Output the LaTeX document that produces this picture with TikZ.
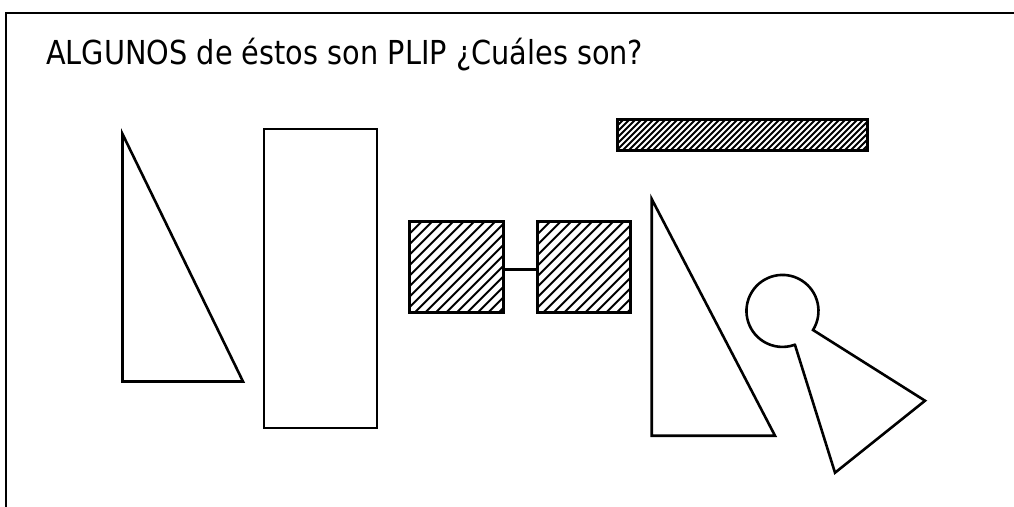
\documentclass[tikz,border=0pt]{standalone}
\usepackage{graphicx}
\usepackage{fontspec}
\setmainfont{DejaVu Sans}
\newlength{\hsp}
\tikzset{
  frameline/.style={line width=2.7pt},
  outl/.style={draw, line width=2.6pt, line join=miter},
  hatchbox/.style={draw, line width=3pt, inner sep=0pt, outer sep=0pt,
    path picture={
      \foreach \i in {0,...,#1}{
        \draw[line width=1.9pt] ([xshift=\i*\hsp-120pt]path picture bounding box.south west) -- ++(400pt,400pt);
      }
    }},
}
\begin{document}
\begin{tikzpicture}[x=1pt,y=-1pt]
\useasboundingbox (0,0) rectangle (1014,506);
\draw[frameline] (6,520) -- (6,13) -- (1030,13);
\node[anchor=base west, inner sep=0pt, font=\fontsize{33}{40}\selectfont] (title) at (46,64.3) {\scalebox{0.872}[1]{ALGUNOS de éstos son PLIP ¿Cuáles son?}};
% left triangle
\draw[outl] (122.5,134) -- (122.5,381.5) -- (243,381.5) -- cycle;
% tall rectangle
\draw[outl] (264,129) rectangle (377,428);
% hatched bar
\setlength{\hsp}{6pt}
\node[hatchbox=70, minimum width=250pt, minimum height=31pt] (bar) at (742,134.5) {};
% hatched squares
\setlength{\hsp}{10.5pt}
\node[hatchbox=30, minimum width=94pt, minimum height=91pt] (sqA) at (456.3,266.5) {};
\node[hatchbox=30, minimum width=93pt, minimum height=91pt] (sqB) at (584.3,266.5) {};
\draw[line width=2.6pt] ([yshift=-2.8pt]sqA.east) -- ([yshift=-2.8pt]sqB.west);
% right triangle
\draw[outl] (651.7,199) -- (651.7,435.7) -- (775,435.7) -- cycle;
% keyhole
\draw[outl] (795,345) -- (835,472.7) -- (925,400.7) -- (813,330)
  arc[start angle=32, end angle=-290, radius=36] -- cycle;
\end{tikzpicture}
\end{document}
